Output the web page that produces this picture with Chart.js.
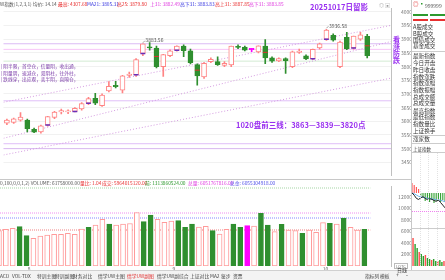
<!DOCTYPE html>
<html><head><meta charset="utf-8">
<script src="https://cdn.jsdelivr.net/npm/chart.js@4.4.1/dist/chart.umd.min.js"></script>
<style>
html,body{margin:0;padding:0;background:#fff;}
body{width:445px;height:280px;overflow:hidden;position:relative;font-family:"Noto Sans CJK SC","Noto Sans",sans-serif;}
canvas{position:absolute;}
.t{position:absolute;white-space:nowrap;line-height:1;}
.hl{position:absolute;height:0;}
.vl{position:absolute;width:0;}
.rp{position:absolute;left:413px;font-size:5.6px;color:#333;line-height:1;white-space:nowrap;}
</style></head><body>
<canvas id="cMain" width="414" height="183" style="left:-2px;top:0"></canvas>
<canvas id="cVol" width="414" height="96" style="left:-2px;top:180px"></canvas>
<canvas id="cMini1" width="33" height="45" style="left:412px;top:170px"></canvas>
<canvas id="cMini2" width="33" height="34" style="left:412px;top:232px"></canvas>

<!-- separators -->
<div class="hl" style="left:0;top:179px;width:411px;border-top:1px solid #c8c8c8"></div>
<div class="vl" style="left:411px;top:0;height:270px;border-left:1px solid #c8c8c8"></div>
<div class="hl" style="left:0;top:270px;width:445px;border-top:1px solid #d0d0d0"></div>
<div style="position:absolute;left:0;top:271px;width:445px;height:9px;background:#f3f3f3"></div>

<!-- header of main panel -->
<div class="t" style="left:0;top:1.6px;font-size:4.8px;color:#555">W指数(1,2,3,1) 均价: 14.14</div>
<div class="t" style="left:58px;top:1.6px;font-size:4.8px;color:#e83030">最高: 4307.68</div>
<div class="t" style="left:87px;top:1.6px;font-size:4.8px;color:#3838e0">MA21: 3805.31</div>
<div class="t" style="left:117px;top:1.6px;font-size:4.8px;color:#e83030">高25: 3879.80</div>
<div class="t" style="left:150px;top:1.6px;font-size:4.8px;color:#e040e0">上31: 3882.49</div>
<div class="t" style="left:180px;top:1.6px;font-size:4.8px;color:#3838e0">高下31: 3883.83</div>
<div class="t" style="left:215px;top:1.6px;font-size:4.8px;color:#e83030">高上31: 3887.85</div>
<div class="t" style="left:249px;top:1.6px;font-size:4.8px;color:#e040e0">高下31: 3883.85</div>
<div class="t" style="left:310px;top:3px;font-size:7.5px;font-weight:bold;color:#9a30f0">20251017日留影</div>
<div class="t" style="left:379px;top:2px;font-size:5px;color:#999">◎ ▣</div>

<!-- annotations -->
<div class="t" style="left:1px;top:63.5px;font-size:4.7px;color:#7a3aa8">| 阴半限，首空仓，信量阴，收出通，</div>
<div class="t" style="left:1px;top:70.5px;font-size:4.7px;color:#7a3aa8">| 阴量阴，速减仓，双阴柱，往外柱，</div>
<div class="t" style="left:1px;top:77px;font-size:4.7px;color:#7a3aa8">| 跌线穿，出应观，卖半阴，直隔仓，</div>
<div class="t" style="left:236px;top:121px;font-size:7.5px;font-weight:bold;color:#9a30f0">1020盘前三线：3863—3839—3820点</div>
<div class="t" style="left:393px;top:36px;font-size:7px;font-weight:bold;color:#9a30f0;line-height:6.9px">看<br>涨<br>防<br>跌</div>

<!-- volume header -->
<div class="t" style="left:0;top:181px;font-size:4.8px;color:#555">0,100,0,0,1,2) VOLUME: 61758000.00</div>
<div class="t" style="left:80px;top:181px;font-size:4.8px;color:#e83030">量比: 1.04</div>
<div class="t" style="left:102px;top:181px;font-size:4.8px;color:#e83030">成交: 5964015120.00</div>
<div class="t" style="left:145px;top:181px;font-size:4.8px;color:#2e9a2e">前: 1313860524.00</div>
<div class="t" style="left:188px;top:181px;font-size:4.8px;color:#e040e0">总量: 6051767816.00</div>
<div class="t" style="left:230px;top:181px;font-size:4.8px;color:#5050e8">总金: 6055304918.00</div>

<!-- right panel -->
<div class="t" style="left:413px;top:2px;font-size:5.5px;color:#e03030">◎</div>
<div class="t" style="left:419px;top:2px;font-size:5.5px;color:#2e9a2e">▪</div>
<div class="t" style="left:425px;top:2.5px;font-size:5px;color:#555">999999</div>
<div style="position:absolute;left:413px;top:14px;width:15px;height:2px;background:#2e9a2e"></div>
<div style="position:absolute;left:430px;top:14px;width:15px;height:2px;background:#2e9a2e"></div>
<div style="position:absolute;left:413px;top:19px;width:15px;height:2px;background:#e83030"></div>
<div style="position:absolute;left:430px;top:19px;width:15px;height:2px;background:#e83030"></div>
<div class="rp" style="top:25.2px">A股成交</div>
<div class="rp" style="top:32.2px">B股成交</div>
<div class="rp" style="top:38.2px">国债成交</div>
<div class="rp" style="top:44.2px">基金成交</div>
<div class="hl" style="left:412px;top:51px;width:33px;border-top:1px solid #ccc"></div>
<div class="rp" style="top:54.2px">最新指数</div>
<div class="rp" style="top:61.2px">今日开盘</div>
<div class="rp" style="top:68.2px">昨日收盘</div>
<div class="rp" style="top:75.2px">指数涨跌</div>
<div class="rp" style="top:81.2px">指数涨幅</div>
<div class="rp" style="top:88.2px">指数振幅</div>
<div class="rp" style="top:95.2px">总成交额</div>
<div class="rp" style="top:101.2px">总成交量</div>
<div class="rp" style="top:109.2px">最高指数</div>
<div class="rp" style="top:115.2px">最低指数</div>
<div class="rp" style="top:122.2px">指数量比</div>
<div class="rp" style="top:129.2px">上证换手</div>
<div class="hl" style="left:412px;top:135px;width:33px;border-top:1px solid #ccc"></div>
<div class="rp" style="top:137.2px">涨家数</div>
<div class="hl" style="left:412px;top:143px;width:33px;border-top:1px solid #ccc"></div>
<div class="rp" style="top:146.5px;font-size:4.5px">上证指数</div>
<div class="hl" style="left:412px;top:152px;width:33px;border-top:1px solid #ccc"></div>
<div class="vl" style="left:420px;top:153px;height:113px;border-left:1px dotted #e2e2e2"></div>
<div class="vl" style="left:428px;top:153px;height:113px;border-left:1px dotted #e2e2e2"></div>
<div class="vl" style="left:437px;top:153px;height:113px;border-left:1px dotted #e2e2e2"></div>
<div class="hl" style="left:412px;top:211px;width:33px;border-top:1px dotted #f080f0"></div>
<div class="hl" style="left:412px;top:228px;width:33px;border-top:1px solid #ccc"></div>

<!-- bottom right small items -->
<div class="t" style="left:394px;top:262.5px;font-size:4px;color:#777;border:1px solid #bbb;padding:0 1px">LOTC</div>
<div class="t" style="left:397px;top:267px;font-size:5px;color:#333">日线</div>

<!-- tabs -->
<div class="t" style="left:0;top:273.5px;font-size:4.8px;color:#444">ACD</div>
<div class="t" style="left:12px;top:273.5px;font-size:4.8px;color:#444">VOL-TDX</div>
<div class="t" style="left:37px;top:273.5px;font-size:4.8px;color:#444">特训主图</div>
<div class="t" style="left:55px;top:273.5px;font-size:4.8px;color:#444">特训副图</div>
<div class="t" style="left:73px;top:273.5px;font-size:4.8px;color:#444">财务对比</div>
<div class="t" style="left:98px;top:273.5px;font-size:4.8px;color:#444">情学UW主图</div>
<div class="t" style="left:127px;top:273.5px;font-size:4.8px;color:#e03030">情学UW副图</div>
<div class="t" style="left:157px;top:273.5px;font-size:4.8px;color:#444">情学UW副综合</div>
<div class="t" style="left:190px;top:273.5px;font-size:4.8px;color:#444">上证对比</div>
<div class="t" style="left:210px;top:273.5px;font-size:4.8px;color:#444">MA2</div>
<div class="t" style="left:221px;top:273.5px;font-size:4.8px;color:#444">鉴步</div>
<div class="t" style="left:233px;top:273.5px;font-size:4.8px;color:#444">资票</div>
<div class="t" style="left:365px;top:273.5px;font-size:4.8px;color:#444">指标列</div>
<div class="t" style="left:380px;top:273.5px;font-size:4.8px;color:#444">模板</div>
<div class="t" style="left:396px;top:273px;font-size:5.5px;color:#444">+</div>
<div class="t" style="left:406px;top:273px;font-size:5.5px;color:#444">-</div>

<script>
// ---------- data ----------
const dates = ['07-28','07-29','07-30','07-31','08-01','08-04','08-05','08-06','08-07','08-08','08-11','08-12','08-13','08-14','08-15','08-18','08-19','08-20','08-21','08-22','08-25','08-26','08-27','08-28','08-29','09-01','09-02','09-03','09-04','09-05','09-08','09-09','09-10','09-11','09-12','09-15','09-16','09-17','09-18','09-19','09-22','09-23','09-24','09-25','09-26','09-29','09-30','10-09','10-10','10-13','10-14','10-15','10-16','10-17'];
const opens  = [3593,3596,3604,3604,3571,3561,3586,3614,3634,3634,3636,3645,3666,3684,3657,3711,3730,3714,3768,3770,3848,3872,3868,3800,3840,3860,3875,3858,3807,3762,3818,3818,3804,3806,3872,3871,3862,3854,3875,3832,3821,3829,3800,3852,3839,3829,3868,3900,3914,3800,3907,3868,3900,3911];
const highs  = [3608,3612,3632,3608,3575,3586,3618,3636,3645,3642,3650,3668,3688,3702,3700,3745,3746,3768,3780,3829,3883.56,3888,3875,3845,3861,3876,3880,3864,3810,3815,3832,3836,3818,3875,3880,3875,3866,3876,3899,3836,3832,3832,3857,3864,3843,3864,3886,3936.58,3920,3893,3925,3912,3925,3918];
const lows   = [3588,3592,3600,3561,3558,3557,3582,3610,3627,3628,3634,3641,3661,3661,3654,3707,3722,3704,3760,3764,3840,3860,3795,3764,3836,3856,3836,3810,3732,3757,3814,3804,3800,3800,3866,3857,3855,3850,3811,3815,3818,3775,3796,3848,3825,3825,3864,3896,3893,3796,3862,3864,3896,3832];
const closes = [3604,3609,3615,3573,3560,3583,3617,3634,3639,3635,3647,3665,3683,3666,3696,3728,3727,3766,3771,3826,3883,3868,3800,3844,3858,3875,3858,3814,3766,3812,3827,3807,3812,3875,3870,3860,3862,3876,3832,3820,3829,3822,3854,3853,3828,3863,3883,3934,3897,3890,3865,3912,3916,3840];
const volumes = [6139,6383,6557,6835,5270,4817,5217,5391,5513,5513,5687,5513,6435,6730,7130,8122,7304,7130,7304,7391,9270,7704,8870,8122,7600,7826,7878,6730,7304,6783,6900,6139,5565,6383,7304,6730,7009,6957,9165,7130,5965,7252,6261,6139,5687,6261,5861,7530,7426,7304,8348,6730,6261,6383];
const priceTicks = [4000,3950,3900,3850,3800,3750,3700,3650,3600,3550,3500,3450];
const volTicks = [12000,10000,8000,6000,4000,2000];
const priceLevels = [3883.56,3863,3820,3675,3518,3500];
const priceLevelColors = ['#b878ea','#f08cf0','#a6d6a6','#c07ef0','#c07ef0','#c07ef0'];
const trendA = [[-0.5,3669.6],[56.5,3950.7]];
const trendB = [[-0.5,3537.9],[56.5,3891.8]];
const trendC = [[-0.5,3476.8],[56.5,3757.8]];
const volLevels = [13565,9217,8348,6261];
const volLevelColors = ['#a6d6a6','#f08cf0','#8888ff','#f08080'];
const purpleMarks = [[6,3586],[10,3636],[12,3666],[19,3770],[20,3848],[25,3860],[45,3829],[47,3900],[51,3868]];
const redMarks = [[22,3837],[28,3787],[38,3852],[53,3876]];
const highLabels = [[20,'3883.56',3883.56],[47,'3936.58',3936.58]];
const monthLabels = [[4,'8'],[25,'9'],[47,'10']];
const miniPrice = [3916,3905,3890,3885,3893,3898,3890,3884,3888,3886,3880,3876,3882,3870,3858,3845];
const miniAvg   = [3916,3912,3906,3900,3897,3895,3893,3891,3889,3888,3886,3884,3883,3881,3878,3874];
const miniRG    = [10,8,6,4,-3,-5,-8,-6,-9,-7,-10,-8,-6,-9,-7,-8];
const miniVol   = [28,22,18,14,12,10,11,8,7,6,7,5,5,6,4,5];

// ---------- helpers ----------
const FONT = '"Noto Sans CJK SC","Noto Sans",sans-serif';
const RED = '#ff8484', GREEN = '#2f8f2f', MAG = '#ff00ff';
const N = dates.length;
const labels = dates.concat(['', '', '']);
const dirOf = i => closes[i] > opens[i] ? 1 : (closes[i] < opens[i] ? -1 : 0);
const colOf = i => dirOf(i) > 0 ? RED : (dirOf(i) < 0 ? GREEN : MAG);
const pts = arr => arr.map(p => ({x: p[0], y: p[1]}));
const lineDS = (data, color, dash) => ({type:'line', xAxisID:'x2', data, borderColor:color, borderWidth:1,
  borderDash:dash, pointRadius:0, fill:false, tension:0, order:5});
const plain = v => String(v);

const commonPlugins = {legend:{display:false}, tooltip:{enabled:false}};

// ---------- main chart ----------
const mainDatasets = [
  {type:'bar', label:'body', order:0, data: opens.map((o,i)=>[o, closes[i]]),
   backgroundColor: opens.map((o,i)=> dirOf(i)>0 ? '#ffffff' : colOf(i)),
   borderColor: opens.map((o,i)=> colOf(i)), borderWidth:1, borderSkipped:false,
   barThickness:5, minBarLength:1.2},
  {type:'bar', label:'wick', order:1, data: lows.map((l,i)=>[l, highs[i]]),
   backgroundColor: lows.map((l,i)=> colOf(i)), borderWidth:0, barThickness:1},
  {type:'scatter', xAxisID:'x2', order:-1, data: pts(purpleMarks), pointStyle:'line', pointRadius:2.4,
   borderColor:'#6b2fb8', borderWidth:1.5},
  {type:'scatter', xAxisID:'x2', order:-1, data: pts(redMarks), pointStyle:'line', pointRadius:2.4,
   borderColor:'#e03030', borderWidth:1},
  lineDS(pts(trendA), '#d49ae0', [1,2]),
  lineDS(pts(trendB), '#d49ae0', [1,2]),
  lineDS(pts(trendC), '#d49ae0', [1,2]),
  ...priceLevels.map((v,k)=> lineDS([{x:-0.5,y:v},{x:56.5,y:v}], priceLevelColors[k], [1,1]))
];

const highLabelPlugin = {
  id:'highLabels',
  afterDatasetsDraw(chart){
    const {ctx, scales:{x2, y}} = chart;
    ctx.save();
    ctx.font = '5px ' + FONT;
    ctx.fillStyle = '#555';
    ctx.strokeStyle = '#777';
    ctx.lineWidth = 0.7;
    ctx.textBaseline = 'middle';
    highLabels.forEach(([idx, txt, val])=>{
      const px = x2.getPixelForValue(idx), py = y.getPixelForValue(val);
      ctx.beginPath(); ctx.moveTo(px, py - 1); ctx.lineTo(px + 2, py - 3); ctx.stroke();
      ctx.fillText(txt, px + 2.5, py - 3.5);
    });
    ctx.restore();
  }
};

new Chart(document.getElementById('cMain'), {
  data: {labels, datasets: mainDatasets},
  options: {
    responsive:false, animation:false, events:[],
    layout:{padding:{left:0, right:0, top:8, bottom:4}},
    plugins: commonPlugins,
    datasets:{bar:{grouped:false}},
    scales:{
      x:{type:'category', display:false, offset:true},
      x2:{type:'linear', display:false, min:-0.5, max:56.5},
      y:{position:'right', min:3403.6, max:4014.3,
         afterBuildTicks: s => { s.ticks = priceTicks.map(v=>({value:v})); },
         afterFit: s => { s.width = 21; },
         grid:{color:'#f1f1f1', drawTicks:false},
         border:{color:'#c0c0c0'},
         ticks:{font:{size:5, family:FONT}, color:'#777', padding:5, crossAlign:'far', callback: plain}}
    }
  },
  plugins:[highLabelPlugin]
});

// ---------- volume chart ----------
const monthPlugin = {
  id:'months',
  afterDraw(chart){
    const {ctx, scales:{x2}, chartArea} = chart;
    ctx.save();
    ctx.font = '5px ' + FONT; ctx.fillStyle = '#666'; ctx.textAlign = 'center'; ctx.textBaseline = 'middle';
    monthLabels.forEach(([idx, t])=>{
      const px = x2.getPixelForValue(idx);
      ctx.fillText(t, px, chartArea.bottom + 3.5);
    });
    ctx.restore();
  }
};

new Chart(document.getElementById('cVol'), {
  data: {labels, datasets: [
    {type:'bar', order:0, data: volumes,
     backgroundColor: volumes.map((v,i)=> dirOf(i)>0 ? '#ffffff' : colOf(i)),
     borderColor: volumes.map((v,i)=> dirOf(i)>0 ? '#ff9a9a' : colOf(i)),
     borderWidth:1, borderSkipped:false, barThickness:5},
    ...volLevels.map((v,k)=> lineDS([{x:-0.5,y:v},{x:53.5,y:v}], volLevelColors[k], [1,1]))
  ]},
  options: {
    responsive:false, animation:false, events:[],
    layout:{padding:{left:0, right:0, top:6, bottom:10}},
    plugins: commonPlugins,
    scales:{
      x:{type:'category', display:false, offset:true},
      x2:{type:'linear', display:false, min:-0.5, max:56.5},
      y:{position:'right', min:0, max:13913,
         afterBuildTicks: s => { s.ticks = volTicks.map(v=>({value:v})); },
         afterFit: s => { s.width = 21; },
         grid:{display:false, drawTicks:false},
         border:{color:'#c0c0c0'},
         ticks:{font:{size:5, family:FONT}, color:'#777', padding:2.5, crossAlign:'far', callback: plain}}
    }
  },
  plugins:[monthPlugin]
});

// ---------- mini intraday ----------
const miniLabels = miniPrice.map((v,i)=>String(i));
new Chart(document.getElementById('cMini1'), {
  data:{labels: miniLabels, datasets:[
    {type:'line', data: miniPrice, borderColor:'#222', borderWidth:1, pointRadius:0, tension:0, order:0},
    {type:'line', data: miniAvg, borderColor:'#6ab0e8', borderWidth:1, pointRadius:0, tension:0.3, order:1},
    {type:'bar', yAxisID:'y2', data: miniRG, backgroundColor: miniRG.map(v=> v>=0 ? '#ff5050' : '#2fa02f'),
     barPercentage:0.5, categoryPercentage:1, order:2}
  ]},
  options:{responsive:false, animation:false, events:[], plugins:commonPlugins,
    layout:{padding:0},
    scales:{x:{display:false, offset:false}, y:{display:false, min:3811, max:4025}, y2:{display:false, min:-22, max:23}}}
});
new Chart(document.getElementById('cMini2'), {
  data:{labels: miniLabels, datasets:[
    {type:'bar', data: miniVol, backgroundColor: miniVol.map((v,i)=> i%3===0 ? '#ff5050' : '#2fa02f'),
     barPercentage:0.7, categoryPercentage:1}
  ]},
  options:{responsive:false, animation:false, events:[], plugins:commonPlugins,
    layout:{padding:0},
    scales:{x:{display:false}, y:{display:false, min:0, max:34}}}
});
</script>
</body></html>
